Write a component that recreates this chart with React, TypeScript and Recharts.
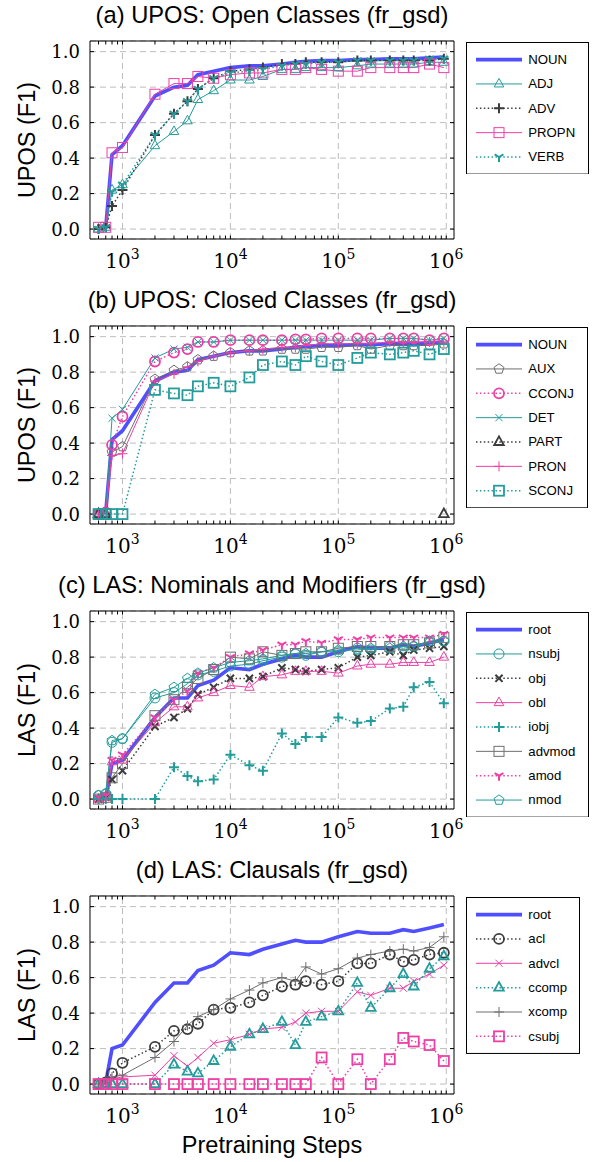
import React from "react";
import { LineChart, Line, XAxis, YAxis, CartesianGrid, Legend, ReferenceLine } from "recharts";

// pretraining checkpoints (x values)
const steps = [600, 700, 800, 1000, 2000, 3000, 4000, 5000, 7000, 10000, 15000, 20000, 30000, 40000, 50000, 70000, 100000, 150000, 200000, 300000, 400000, 500000, 700000, 950000];

const xMajorTicks = [1000, 10000, 100000, 1000000];
const xMinorTicks = [600, 700, 800, 900, 2000, 3000, 4000, 5000, 6000, 7000, 8000, 9000, 20000, 30000, 40000, 50000, 60000, 70000, 80000, 90000, 200000, 300000, 400000, 500000, 600000, 700000, 800000, 900000];
const yTicks = [0, 0.2, 0.4, 0.6, 0.8, 1.0];

// (a) UPOS open classes
const nounF1 = [0, 0.01, 0.42, 0.47, 0.75, 0.8, 0.81, 0.87, 0.89, 0.91, 0.92, 0.92, 0.93, 0.94, 0.945, 0.95, 0.95, 0.955, 0.955, 0.96, 0.96, 0.96, 0.965, 0.97];
const adjF1 = [0, 0.01, 0.22, 0.25, 0.47, 0.55, 0.61, 0.73, 0.78, 0.84, 0.84, 0.86, 0.9, 0.9, 0.91, 0.91, 0.91, 0.92, 0.93, 0.93, 0.93, 0.93, 0.94, 0.94];
const advF1 = [0, 0.01, 0.13, 0.22, 0.53, 0.65, 0.72, 0.79, 0.85, 0.89, 0.9, 0.91, 0.93, 0.93, 0.94, 0.94, 0.94, 0.95, 0.95, 0.95, 0.95, 0.95, 0.95, 0.96];
const propnF1 = [0.01, 0.01, 0.43, 0.46, 0.76, 0.82, 0.82, 0.86, 0.85, 0.87, 0.88, 0.88, 0.9, 0.9, 0.91, 0.9, 0.89, 0.89, 0.91, 0.91, 0.91, 0.91, 0.93, 0.91];
const verbF1 = [0, 0.01, 0.21, 0.25, 0.53, 0.65, 0.72, 0.79, 0.85, 0.88, 0.89, 0.9, 0.92, 0.93, 0.93, 0.94, 0.94, 0.95, 0.95, 0.95, 0.95, 0.95, 0.96, 0.96];

// (b) UPOS closed classes
const auxF1 = [0, 0.01, 0.35, 0.38, 0.76, 0.81, 0.83, 0.87, 0.89, 0.91, 0.92, 0.92, 0.93, 0.93, 0.93, 0.94, 0.94, 0.95, 0.93, 0.95, 0.95, 0.95, 0.95, 0.96];
const cconjF1 = [0, 0.01, 0.39, 0.55, 0.86, 0.91, 0.93, 0.97, 0.97, 0.98, 0.98, 0.98, 0.98, 0.985, 0.985, 0.99, 0.99, 0.99, 0.99, 0.99, 0.99, 0.99, 0.98, 0.99];
const detF1 = [0, 0.01, 0.54, 0.59, 0.88, 0.93, 0.94, 0.97, 0.97, 0.98, 0.98, 0.98, 0.98, 0.98, 0.98, 0.98, 0.98, 0.98, 0.98, 0.99, 0.99, 0.99, 0.98, 0.99];
const partF1 = [0, 0, null, null, null, null, null, null, null, null, null, null, null, null, null, null, null, null, null, null, null, null, null, 0];
const pronF1 = [0, 0.01, 0.33, 0.34, 0.75, 0.79, 0.83, 0.86, 0.89, 0.91, 0.92, 0.93, 0.94, 0.94, 0.95, 0.96, 0.96, 0.96, 0.96, 0.97, 0.97, 0.97, 0.97, 0.97];
const sconjF1 = [0, 0, 0, 0, 0.7, 0.68, 0.67, 0.72, 0.74, 0.72, 0.77, 0.84, 0.86, 0.84, 0.89, 0.86, 0.84, 0.88, 0.91, 0.9, 0.91, 0.92, 0.9, 0.93];

// (c) LAS nominals and modifiers
const rootLas = [0, 0.01, 0.2, 0.22, 0.46, 0.57, 0.57, 0.64, 0.67, 0.74, 0.73, 0.76, 0.79, 0.81, 0.8, 0.8, 0.83, 0.86, 0.85, 0.85, 0.87, 0.86, 0.88, 0.9];
const nsubjLas = [0.02, 0.03, 0.32, 0.34, 0.57, 0.6, 0.65, 0.7, 0.72, 0.75, 0.76, 0.78, 0.8, 0.82, 0.81, 0.83, 0.83, 0.85, 0.84, 0.86, 0.85, 0.86, 0.88, 0.89];
const objLas = [0, 0.01, 0.11, 0.16, 0.41, 0.46, 0.51, 0.59, 0.63, 0.68, 0.68, 0.69, 0.74, 0.73, 0.72, 0.73, 0.74, 0.8, 0.81, 0.83, 0.81, 0.84, 0.85, 0.86];
const oblLas = [0, 0.01, 0.21, 0.22, 0.43, 0.52, 0.52, 0.57, 0.6, 0.64, 0.63, 0.69, 0.7, 0.72, 0.72, 0.72, 0.71, 0.75, 0.76, 0.76, 0.77, 0.77, 0.77, 0.8];
const iobjLas = [0, 0, 0, 0, 0, 0.18, 0.13, 0.1, 0.11, 0.25, 0.19, 0.16, 0.37, 0.31, 0.35, 0.35, 0.46, 0.43, 0.44, 0.51, 0.52, 0.63, 0.66, 0.54];
const advmodLas = [0, 0.01, 0.12, 0.2, 0.47, 0.56, 0.63, 0.68, 0.73, 0.8, 0.79, 0.83, 0.81, 0.82, 0.83, 0.83, 0.85, 0.86, 0.86, 0.86, 0.87, 0.87, 0.88, 0.91];
const amodLas = [0.01, 0.02, 0.22, 0.25, 0.46, 0.56, 0.61, 0.71, 0.74, 0.8, 0.82, 0.84, 0.87, 0.87, 0.89, 0.88, 0.9, 0.9, 0.91, 0.91, 0.91, 0.91, 0.91, 0.93];
const nmodLas = [0.02, 0.03, 0.33, 0.34, 0.59, 0.63, 0.68, 0.71, 0.74, 0.77, 0.78, 0.79, 0.81, 0.82, 0.82, 0.83, 0.84, 0.84, 0.85, 0.85, 0.86, 0.86, 0.89, 0.89];

// (d) LAS clausals
const aclLas = [0, 0.01, 0.06, 0.12, 0.21, 0.3, 0.31, 0.34, 0.42, 0.43, 0.46, 0.5, 0.55, 0.56, 0.58, 0.56, 0.58, 0.68, 0.68, 0.73, 0.69, 0.7, 0.73, 0.74];
const advclLas = [0, 0.01, 0.03, 0.04, 0.05, 0.16, 0.1, 0.15, 0.23, 0.25, 0.28, 0.31, 0.32, 0.35, 0.4, 0.41, 0.41, 0.52, 0.5, 0.54, 0.54, 0.58, 0.62, 0.67];
const ccompLas = [0, 0, 0, 0, 0, 0.11, 0.07, 0.06, 0.13, 0.21, 0.28, 0.31, 0.35, 0.22, 0.35, 0.38, 0.41, 0.57, 0.43, 0.54, 0.62, 0.55, 0.65, 0.72];
const xcompLas = [0, 0.01, 0.04, 0.05, 0.15, 0.24, 0.33, 0.38, 0.42, 0.48, 0.53, 0.57, 0.6, 0.58, 0.66, 0.62, 0.65, 0.71, 0.73, 0.75, 0.76, 0.75, 0.77, 0.83];
const csubjLas = [0, 0, 0, 0, 0, 0, 0, 0, 0, 0, 0, 0, 0, 0, 0, 0.15, 0, 0.14, 0, 0.14, 0.26, 0.24, 0.22, 0.13];

const BLUE = "#4f4fff";
const TEAL = "#259c9c";
const PINK = "#ee3fa6";
const DARK = "#3c3c3c";
const GRAY = "#6e6e6e";
const GRID = "#bdbdbd";

type Marker = "none" | "triangle" | "square" | "circle" | "plus" | "cross" | "tri" | "pentagon";
type Series = { name: string; values: (number | null)[]; color: string; dotted?: boolean; width: number; marker: Marker; mw: number };
type Panel = { title: string; yLabel: string; series: Series[]; legendWidth: number };

const thick = (name: string, values: (number | null)[]): Series => ({ name, values, color: BLUE, width: 3.6, marker: "none", mw: 0 });

const panels: Panel[] = [
  {
    title: "(a) UPOS: Open Classes (fr_gsd)",
    yLabel: "UPOS (F1)",
    legendWidth: 123,
    series: [
      thick("NOUN", nounF1),
      { name: "ADJ", values: adjF1, color: TEAL, width: 1, marker: "triangle", mw: 1 },
      { name: "ADV", values: advF1, color: DARK, dotted: true, width: 1.5, marker: "plus", mw: 2 },
      { name: "PROPN", values: propnF1, color: PINK, width: 1, marker: "square", mw: 1 },
      { name: "VERB", values: verbF1, color: TEAL, dotted: true, width: 1.5, marker: "tri", mw: 2 },
    ],
  },
  {
    title: "(b) UPOS: Closed Classes (fr_gsd)",
    yLabel: "UPOS (F1)",
    legendWidth: 122,
    series: [
      thick("NOUN", nounF1),
      { name: "AUX", values: auxF1, color: GRAY, width: 1, marker: "pentagon", mw: 1 },
      { name: "CCONJ", values: cconjF1, color: PINK, dotted: true, width: 1.5, marker: "circle", mw: 1.8 },
      { name: "DET", values: detF1, color: TEAL, width: 1, marker: "cross", mw: 1 },
      { name: "PART", values: partF1, color: DARK, dotted: true, width: 1.5, marker: "triangle", mw: 1.8 },
      { name: "PRON", values: pronF1, color: PINK, width: 1, marker: "plus", mw: 1 },
      { name: "SCONJ", values: sconjF1, color: TEAL, dotted: true, width: 1.5, marker: "square", mw: 1.8 },
    ],
  },
  {
    title: "(c) LAS: Nominals and Modifiers (fr_gsd)",
    yLabel: "LAS (F1)",
    legendWidth: 123,
    series: [
      thick("root", rootLas),
      { name: "nsubj", values: nsubjLas, color: TEAL, width: 1, marker: "circle", mw: 1 },
      { name: "obj", values: objLas, color: DARK, dotted: true, width: 1.5, marker: "cross", mw: 2 },
      { name: "obl", values: oblLas, color: PINK, width: 1, marker: "triangle", mw: 1 },
      { name: "iobj", values: iobjLas, color: TEAL, dotted: true, width: 1.5, marker: "plus", mw: 2 },
      { name: "advmod", values: advmodLas, color: GRAY, width: 1, marker: "square", mw: 1 },
      { name: "amod", values: amodLas, color: PINK, dotted: true, width: 1.5, marker: "tri", mw: 2 },
      { name: "nmod", values: nmodLas, color: TEAL, width: 1, marker: "pentagon", mw: 1 },
    ],
  },
  {
    title: "(d) LAS: Clausals (fr_gsd)",
    yLabel: "LAS (F1)",
    legendWidth: 114,
    series: [
      thick("root", rootLas),
      { name: "acl", values: aclLas, color: DARK, dotted: true, width: 1.5, marker: "circle", mw: 1.8 },
      { name: "advcl", values: advclLas, color: PINK, width: 1, marker: "cross", mw: 1 },
      { name: "ccomp", values: ccompLas, color: TEAL, dotted: true, width: 1.5, marker: "triangle", mw: 1.8 },
      { name: "xcomp", values: xcompLas, color: GRAY, width: 1, marker: "plus", mw: 1 },
      { name: "csubj", values: csubjLas, color: PINK, dotted: true, width: 1.5, marker: "square", mw: 1.8 },
    ],
  },
];

const W = 593;
const PANEL_H = 285;
const PLOT_TOP = 41;
const PLOT_BOTTOM = 239;
const AX = 0.01; // near-zero axis thickness so mirrored ticks sit on the frame
const X_DOMAIN: [number, number] = [500, 1180000];
const Y_DOMAIN: [number, number] = [-0.056, 1.06];
const SANS = "'Liberation Sans', Arial, Helvetica, sans-serif";
const SERIF = "'DejaVu Serif', serif";
const DOTS = "1.5 2.4";

function markerShape(m: Marker, x: number, y: number, c: string, w: number) {
  const st = { stroke: c, strokeWidth: w, fill: "none" };
  switch (m) {
    case "triangle":
      return <polygon points={`${x},${y - 5.6} ${x + 4.8},${y + 3} ${x - 4.8},${y + 3}`} {...st} />;
    case "square":
      return <rect x={x - 5} y={y - 5} width={10} height={10} {...st} />;
    case "circle":
      return <circle cx={x} cy={y} r={5} {...st} />;
    case "plus":
      return <path d={`M${x - 5},${y}H${x + 5}M${x},${y - 5}V${y + 5}`} {...st} />;
    case "cross":
      return <path d={`M${x - 3.6},${y - 3.6}L${x + 3.6},${y + 3.6}M${x - 3.6},${y + 3.6}L${x + 3.6},${y - 3.6}`} {...st} />;
    case "tri":
      return <path d={`M${x},${y}V${y + 5}M${x},${y}L${x - 4.4},${y - 2.6}M${x},${y}L${x + 4.4},${y - 2.6}`} {...st} />;
    case "pentagon": {
      const pts = [0, 1, 2, 3, 4]
        .map((k) => {
          const a = ((-90 + 72 * k) * Math.PI) / 180;
          return `${x + 5.2 * Math.cos(a)},${y + 5.2 * Math.sin(a)}`;
        })
        .join(" ");
      return <polygon points={pts} {...st} />;
    }
    default:
      return null;
  }
}

const makeDot = (s: Series) => (props: any) => {
  const { cx, cy, index } = props;
  const k = `${s.name}-${index}`;
  if (cx == null || cy == null || Number.isNaN(cy) || s.values[index] == null) return <g key={k} />;
  return <g key={k}>{markerShape(s.marker, cx, cy, s.color, s.mw)}</g>;
};

const XTick = (props: any) => {
  const { x, payload } = props;
  const v = payload.value;
  if (!xMajorTicks.includes(v)) return <g />;
  return (
    <text x={x} y={PLOT_BOTTOM + 29} textAnchor="middle" fontFamily={SERIF} fontSize={20} fill="#000">
      10
      <tspan dy={-9} fontSize={14}>
        {Math.round(Math.log10(v))}
      </tspan>
    </text>
  );
};

const YTick = (props: any) => {
  const { y, payload } = props;
  return (
    <text x={80} y={y} dy="0.36em" textAnchor="end" fontFamily={SERIF} fontSize={18} fill="#000">
      {payload.value.toFixed(1)}
    </text>
  );
};

const LegendBox = ({ series, width }: { series: Series[]; width: number }) => {
  const h = 35.2 + (series.length - 1) * 24.35;
  return (
    <svg width={width} height={h} style={{ display: "block" }}>
      <rect x={0.5} y={0.5} width={width - 1} height={h - 1} fill="#fff" stroke="#000" strokeWidth={1} />
      {series.map((s, i) => {
        const y = 17.6 + i * 24.35;
        return (
          <g key={s.name}>
            <line x1={10} x2={56} y1={y} y2={y} stroke={s.color} strokeWidth={s.width} strokeDasharray={s.dotted ? DOTS : undefined} />
            {markerShape(s.marker, 33, y, s.color, s.mw)}
            <text x={62.3} y={y + 4.2} fontFamily={SANS} fontSize={13.2} fill="#000">
              {s.name}
            </text>
          </g>
        );
      })}
    </svg>
  );
};

function PanelChart({ panel, top, height, xLabel }: { panel: Panel; top: number; height: number; xLabel?: string }) {
  const data = steps.map((step, i) => {
    const row: Record<string, number | null> = { step };
    panel.series.forEach((s) => {
      row[s.name] = s.values[i];
    });
    return row;
  });
  const allX = [...xMinorTicks, ...xMajorTicks].sort((a, b) => a - b);
  const legendH = 35.2 + (panel.series.length - 1) * 24.35;
  const plotMid = (PLOT_TOP + PLOT_BOTTOM) / 2;

  return (
    <div style={{ position: "absolute", left: 0, top, width: W, height }}>
      <LineChart
        width={W}
        height={height}
        data={data}
        margin={{ top: PLOT_TOP - AX, right: 139 - AX, left: 90 - AX, bottom: height - PLOT_BOTTOM - AX }}
      >
        <CartesianGrid vertical={false} stroke={GRID} strokeDasharray="6 4" />
        {xMajorTicks.map((v) => (
          <ReferenceLine key={v} x={v} stroke={GRID} strokeDasharray="6 4" />
        ))}
        <XAxis
          dataKey="step"
          type="number"
          scale="log"
          domain={X_DOMAIN}
          allowDataOverflow
          ticks={allX}
          interval={0}
          height={AX}
          mirror
          tickSize={3.5}
          tickMargin={0}
          tickLine={{ stroke: "#000" }}
          axisLine={{ stroke: "#000" }}
          tick={XTick}
        />
        <XAxis
          xAxisId="top"
          orientation="top"
          dataKey="step"
          type="number"
          scale="log"
          domain={X_DOMAIN}
          allowDataOverflow
          ticks={allX}
          interval={0}
          height={AX}
          mirror
          tickSize={3.5}
          tickLine={{ stroke: "#000" }}
          axisLine={{ stroke: "#000" }}
          tick={() => <g />}
        />
        <YAxis
          type="number"
          domain={Y_DOMAIN}
          allowDataOverflow
          ticks={yTicks}
          interval={0}
          width={AX}
          mirror
          tickSize={4}
          tickMargin={0}
          tickLine={{ stroke: "#000" }}
          axisLine={{ stroke: "#000" }}
          tick={YTick}
        />
        <YAxis
          yAxisId="right"
          orientation="right"
          type="number"
          domain={Y_DOMAIN}
          allowDataOverflow
          ticks={yTicks}
          interval={0}
          width={AX}
          mirror
          tickSize={4}
          tickLine={{ stroke: "#000" }}
          axisLine={{ stroke: "#000" }}
          tick={() => <g />}
        />
        {panel.series.map((s) => (
          <Line
            key={s.name}
            dataKey={s.name}
            type="linear"
            stroke={s.color}
            strokeWidth={s.width}
            strokeDasharray={s.dotted ? DOTS : undefined}
            dot={s.marker === "none" ? false : makeDot(s)}
            activeDot={false}
            connectNulls={false}
            isAnimationActive={false}
          />
        ))}
        <Legend
          layout="horizontal"
          align="center"
          verticalAlign="middle"
          wrapperStyle={{ left: 466, top: 41.7, width: panel.legendWidth, height: legendH }}
          content={() => <LegendBox series={panel.series} width={panel.legendWidth} />}
        />
      </LineChart>
      <svg width={W} height={height} style={{ position: "absolute", left: 0, top: 0, pointerEvents: "none" }}>
        <text x={272} y={23} textAnchor="middle" fontFamily={SANS} fontSize={23.7} fill="#000">
          {panel.title}
        </text>
        <text x={35} y={plotMid} transform={`rotate(-90 35 ${plotMid})`} textAnchor="middle" fontFamily={SANS} fontSize={23.5} fill="#000">
          {panel.yLabel}
        </text>
        {xLabel && (
          <text x={272} y={298} textAnchor="middle" fontFamily={SANS} fontSize={23.5} fill="#000">
            {xLabel}
          </text>
        )}
      </svg>
    </div>
  );
}

export default function App() {
  return (
    <div style={{ position: "absolute", left: 0, top: 0, width: W, height: 1162, background: "#fff" }}>
      {panels.map((p, i) => (
        <PanelChart
          key={p.title}
          panel={p}
          top={i * PANEL_H}
          height={i === panels.length - 1 ? 1162 - 3 * PANEL_H : PANEL_H}
          xLabel={i === panels.length - 1 ? "Pretraining Steps" : undefined}
        />
      ))}
    </div>
  );
}
